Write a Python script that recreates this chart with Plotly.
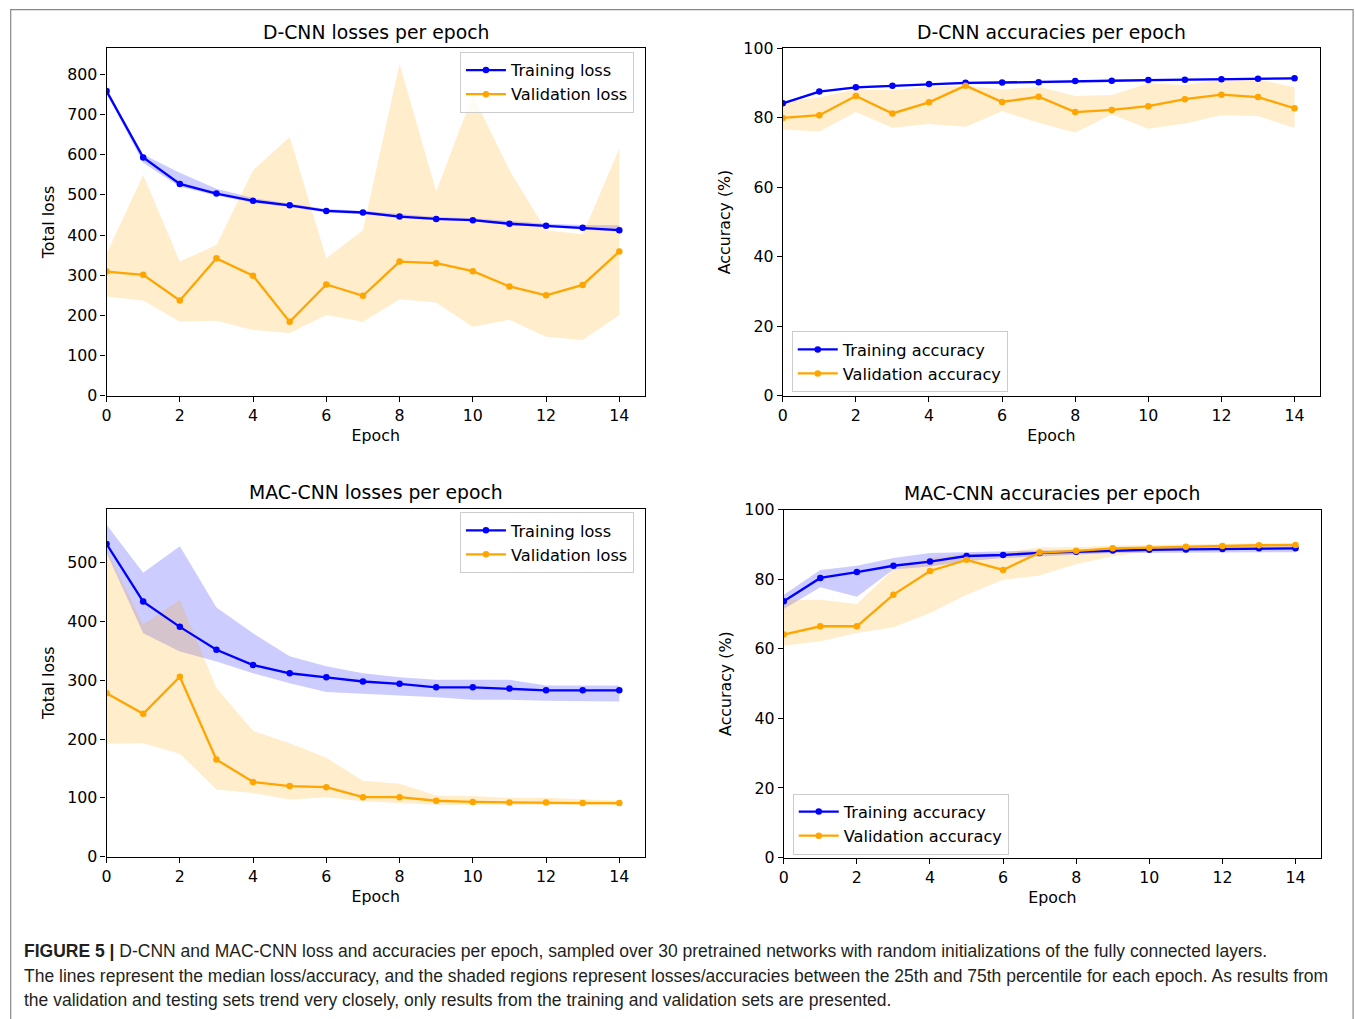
import plotly.graph_objects as go

epochs = list(range(15))

# D-CNN losses
dcnn_train_loss = [758, 593, 527, 503, 485, 474, 460, 456, 446, 440, 437, 428, 423, 418, 412]
dcnn_train_loss_hi = [762, 600, 555, 515, 492, 478, 465, 460, 452, 445, 442, 435, 428, 425, 424]
dcnn_train_loss_lo = [752, 580, 520, 498, 480, 470, 456, 452, 443, 437, 434, 425, 420, 414, 408]
dcnn_val_loss = [309, 301, 237, 342, 299, 184, 277, 249, 334, 330, 310, 272, 250, 276, 359]
dcnn_val_loss_hi = [354, 549, 334, 375, 561, 644, 342, 412, 826, 508, 748, 561, 412, 402, 615]
dcnn_val_loss_lo = [247, 237, 185, 187, 164, 156, 201, 184, 240, 232, 172, 189, 147, 139, 201]

# D-CNN accuracies
dcnn_train_acc = [84.1, 87.5, 88.7, 89.2, 89.7, 90.0, 90.1, 90.2, 90.5, 90.6, 90.8, 90.9, 91.0, 91.2, 91.3]
dcnn_train_acc_hi = [84.4, 87.8, 89.0, 89.5, 90.0, 90.3, 90.4, 90.5, 90.8, 90.9, 91.1, 91.2, 91.3, 91.5, 91.6]
dcnn_train_acc_lo = [83.8, 87.2, 88.4, 88.9, 89.4, 89.7, 89.8, 89.9, 90.2, 90.3, 90.5, 90.6, 90.7, 90.9, 91.0]
dcnn_val_acc = [79.9, 80.7, 86.2, 81.2, 84.4, 89.2, 84.5, 86.0, 81.6, 82.2, 83.3, 85.3, 86.6, 85.9, 82.7]
dcnn_val_acc_hi = [84.6, 85.8, 88.1, 87.9, 88.9, 89.2, 88.1, 88.9, 86.2, 86.5, 89.9, 89.4, 91.0, 91.0, 88.7]
dcnn_val_acc_lo = [76.6, 76.0, 81.6, 77.1, 78.2, 77.4, 81.8, 78.5, 75.7, 81.0, 76.8, 78.3, 80.7, 80.5, 77.0]

# MAC-CNN losses
mac_train_loss = [532, 434, 391, 352, 326, 312, 305, 298, 294, 288, 288, 286, 283, 283, 283]
mac_train_loss_hi = [565, 483, 528, 424, 380, 341, 324, 312, 305, 301, 301, 301, 291, 291, 291]
mac_train_loss_lo = [517, 380, 349, 332, 312, 295, 280, 277, 274, 271, 267, 267, 265, 264, 264]
mac_val_loss = [278, 243, 306, 165, 127, 120, 118, 101, 101, 95, 93, 92, 92, 91, 91]
mac_val_loss_hi = [522, 395, 437, 287, 214, 193, 168, 129, 124, 104, 103, 100, 100, 97, 95]
mac_val_loss_lo = [192, 193, 175, 114, 108, 97, 101, 94, 91, 88, 88, 88, 88, 88, 88]

# MAC-CNN accuracies
mac_train_acc = [73.7, 80.4, 82.1, 83.9, 85.1, 86.7, 87.0, 87.6, 87.9, 88.3, 88.5, 88.6, 88.7, 88.9, 88.9]
mac_train_acc_hi = [75.6, 82.7, 83.9, 86.1, 87.6, 87.8, 87.9, 88.2, 88.4, 88.7, 89.0, 89.2, 89.3, 89.5, 89.6]
mac_train_acc_lo = [71.5, 77.7, 75.0, 82.8, 83.7, 85.2, 86.1, 86.6, 87.1, 87.6, 87.8, 87.8, 87.8, 87.8, 87.8]
mac_val_acc = [64.1, 66.5, 66.5, 75.6, 82.4, 85.6, 82.7, 87.7, 88.2, 88.9, 89.1, 89.4, 89.6, 89.8, 89.9]
mac_val_acc_hi = [74.1, 74.1, 72.9, 82.8, 86.1, 87.3, 87.6, 89.2, 89.2, 89.7, 89.9, 90.1, 90.2, 90.4, 90.4]
mac_val_acc_lo = [60.9, 62.2, 64.6, 66.2, 70.3, 75.6, 79.9, 81.1, 84.4, 86.6, 88.0, 88.4, 88.5, 88.8, 88.8]

titles = ["D-CNN losses per epoch", "D-CNN accuracies per epoch",
          "MAC-CNN losses per epoch", "MAC-CNN accuracies per epoch"]
x_ticks = [0, 2, 4, 6, 8, 10, 12, 14]
loss_ticks_top = [0, 100, 200, 300, 400, 500, 600, 700, 800]
loss_ticks_bottom = [0, 100, 200, 300, 400, 500]
acc_ticks = [0, 20, 40, 60, 80, 100]

W, H = 1355, 1019
# observed page->picture mapping of the renderer (compensated below)
OX, SX, OY, SY = 4.3, 0.9975, 8.9, 0.982


def fx(x):
    return ((x - OX) / SX) / W


def fy(y):
    return 1 - ((y - OY) / SY) / H


BLUE = "#0000ff"
ORANGE = "#ffa500"
BLUE_FILL = "rgba(0,0,255,0.2)"
ORANGE_FILL = "rgba(255,165,0,0.2)"
FONT = "DejaVu Sans"
FS = 15.8

panels = [
    dict(px=(106, 645), py=(48, 396), yr=[0, 865], yt=loss_ticks_top, ytitle="Total loss",
         names=("Training loss", "Validation loss"),
         tr=(dcnn_train_loss, dcnn_train_loss_hi, dcnn_train_loss_lo),
         va=(dcnn_val_loss, dcnn_val_loss_hi, dcnn_val_loss_lo),
         leg=dict(x=634, y=82.5, xanchor="right")),
    dict(px=(783, 1321), py=(48, 396), yr=[0, 100], yt=acc_ticks, ytitle="Accuracy (%)",
         names=("Training accuracy", "Validation accuracy"),
         tr=(dcnn_train_acc, dcnn_train_acc_hi, dcnn_train_acc_lo),
         va=(dcnn_val_acc, dcnn_val_acc_hi, dcnn_val_acc_lo),
         leg=dict(x=792, y=362, xanchor="left")),
    dict(px=(106, 645), py=(509, 857), yr=[0, 592], yt=loss_ticks_bottom, ytitle="Total loss",
         names=("Training loss", "Validation loss"),
         tr=(mac_train_loss, mac_train_loss_hi, mac_train_loss_lo),
         va=(mac_val_loss, mac_val_loss_hi, mac_val_loss_lo),
         leg=dict(x=634, y=543, xanchor="right")),
    dict(px=(784, 1322), py=(510, 858), yr=[0, 100], yt=acc_ticks, ytitle="Accuracy (%)",
         names=("Training accuracy", "Validation accuracy"),
         tr=(mac_train_acc, mac_train_acc_hi, mac_train_acc_lo),
         va=(mac_val_acc, mac_val_acc_hi, mac_val_acc_lo),
         leg=dict(x=793, y=824.5, xanchor="left")),
]

fig = go.Figure()
layout = {}
annotations = []

for i, p in enumerate(panels):
    n = i + 1
    xa = "x" if n == 1 else f"x{n}"
    ya = "y" if n == 1 else f"y{n}"
    lg = "legend" if n == 1 else f"legend{n}"
    for (med, hi, lo), fillc in ((p["tr"], BLUE_FILL), (p["va"], ORANGE_FILL)):
        fig.add_trace(go.Scatter(
            x=epochs + epochs[::-1], y=hi + lo[::-1], fill="toself", fillcolor=fillc,
            line=dict(width=0), mode="lines", hoverinfo="skip", showlegend=False,
            xaxis=xa, yaxis=ya))
    for (med, hi, lo), col, name in ((p["tr"], BLUE, p["names"][0]), (p["va"], ORANGE, p["names"][1])):
        fig.add_trace(go.Scatter(
            x=epochs, y=med, mode="lines+markers", name=name,
            line=dict(color=col, width=2.3), marker=dict(color=col, size=6.5),
            xaxis=xa, yaxis=ya, legend=lg))

    xkey = "xaxis" if n == 1 else f"xaxis{n}"
    ykey = "yaxis" if n == 1 else f"yaxis{n}"
    axcommon = dict(showline=True, linecolor="black", linewidth=1.2, mirror=True,
                    ticks="outside", ticklen=5, tickwidth=1.2, tickcolor="black",
                    showgrid=False, zeroline=False,
                    tickfont=dict(family=FONT, size=FS, color="black"))
    layout[xkey] = dict(domain=[fx(p["px"][0]), fx(p["px"][1])], range=[0, 14.7],
                        tickvals=x_ticks, anchor=ya,
                        title=dict(text="Epoch", font=dict(family=FONT, size=FS, color="black"),
                                   standoff=6),
                        **axcommon)
    layout[ykey] = dict(domain=[fy(p["py"][1]), fy(p["py"][0])], range=p["yr"],
                        tickvals=p["yt"], anchor=xa,
                        title=dict(text=p["ytitle"], font=dict(family=FONT, size=FS, color="black"),
                                   standoff=8),
                        **axcommon)
    L = p["leg"]
    layout[lg] = dict(x=fx(L["x"]), y=fy(L["y"]), xanchor=L["xanchor"], yanchor="middle",
                      xref="paper", yref="paper",
                      bgcolor="rgba(255,255,255,0.8)", bordercolor="#cccccc", borderwidth=1,
                      font=dict(family=FONT, size=16.2, color="black"),
                      tracegroupgap=0, itemwidth=40)
    annotations.append(dict(text=titles[i], x=fx((p["px"][0] + p["px"][1]) / 2),
                            y=fy(p["py"][0] - 16), xref="paper", yref="paper",
                            xanchor="center", yanchor="middle", showarrow=False,
                            font=dict(family=FONT, size=18.8, color="black")))

caption_lines = [
    "<b>FIGURE 5 |</b> D-CNN and MAC-CNN loss and accuracies per epoch, sampled over 30 pretrained networks with random initializations of the fully connected layers.",
    "The lines represent the median loss/accuracy, and the shaded regions represent losses/accuracies between the 25th and 75th percentile for each epoch. As results from",
    "the validation and testing sets trend very closely, only results from the training and validation sets are presented.",
]
caption_y = [952, 977, 1001]
for t, yy in zip(caption_lines, caption_y):
    annotations.append(dict(text=t, x=fx(21), y=fy(yy), xref="paper", yref="paper",
                            xanchor="left", yanchor="middle", showarrow=False, align="left",
                            font=dict(family="Liberation Sans", size=17.5, color="#231f20")))

fig.update_layout(
    width=W, height=H, margin=dict(l=0, r=0, t=0, b=0),
    paper_bgcolor="white", plot_bgcolor="white",
    annotations=annotations,
    shapes=[dict(type="rect", xref="paper", yref="paper",
                 x0=fx(10), x1=fx(1354), y0=-0.02, y1=fy(9.6),
                 line=dict(color="#888888", width=1.2), fillcolor="rgba(0,0,0,0)", layer="below")],
    **layout,
)

fig.write_html("out.html", config={"displayModeBar": False},
               post_script="document.body.style.margin='0';document.body.style.padding='0';"
                           "document.documentElement.style.overflow='hidden';")
